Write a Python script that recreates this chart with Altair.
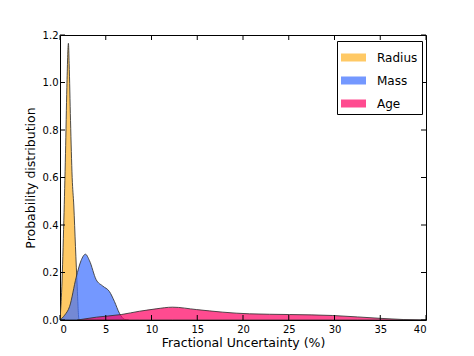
import altair as alt
import pandas as pd

series = ["Radius", "Mass", "Age"]
colors = ["#FFB42A", "#3F70FF", "#FF0665"]

rad_x = [0.0, 0.2, 0.42, 0.6, 0.75, 0.92, 1.0, 1.15, 1.33, 1.51, 1.69, 1.88, 2.06, 2.15]
rad_y = [0.0, 0.14, 0.42, 0.70, 0.98, 1.165, 1.08, 0.84, 0.60, 0.48, 0.31, 0.14, 0.006, 0.0]

mass_x = [0.0, 0.5, 1.04, 1.77, 2.3, 2.78, 3.22, 3.95, 4.67, 5.4, 5.95, 6.5, 7.04, 7.5]
mass_y = [0.0, 0.02, 0.056, 0.18, 0.25, 0.277, 0.25, 0.17, 0.143, 0.12, 0.078, 0.028, 0.003, 0.0]

age_x = [1.9, 4.0, 6.7, 8.7, 10.5, 12.3, 14.9, 17.8, 20.7, 25.1, 29.8, 32.5, 35.0, 37.5, 40.0]
age_y = [0.0, 0.012, 0.023, 0.037, 0.047, 0.054, 0.044, 0.033, 0.026, 0.023, 0.019, 0.013, 0.007, 0.002, 0.0]

x_ticks = [0, 5, 10, 15, 20, 25, 30, 35, 40]
y_ticks = [0.0, 0.2, 0.4, 0.6, 0.8, 1.0, 1.2]

W, H = 366, 285
FONT = "DejaVu Sans"

def frame(name, xs, ys):
    return pd.DataFrame({"x": xs, "y": ys, "series": name})

dfs = [frame("Radius", rad_x, rad_y), frame("Mass", mass_x, mass_y), frame("Age", age_x, age_y)]

X = alt.X("x:Q", scale=alt.Scale(domain=[0, 40], nice=False, zero=False),
          axis=alt.Axis(values=x_ticks, format="d", ticks=False, domain=False, grid=False,
                        labelPadding=4, labelFontSize=10, labelFont=FONT, labelColor="black",
                        title="Fractional Uncertainty (%)", titleFontSize=12.5, titleFont=FONT,
                        titleFontWeight="normal", titleColor="black", titlePadding=2))
Y = alt.Y("y:Q", stack=None, scale=alt.Scale(domain=[0, 1.2], nice=False),
          axis=alt.Axis(values=y_ticks, format=".1f", ticks=False, domain=False, grid=False,
                        labelPadding=2, labelFontSize=10, labelFont=FONT, labelColor="black",
                        title="Probability distribution", titleFontSize=12.5, titleFont=FONT,
                        titleFontWeight="normal", titleColor="black", titlePadding=5))

color = alt.Color("series:N", scale=alt.Scale(domain=series, range=colors),
                  legend=alt.Legend(title=None, orient="none", legendX=277, legendY=6,
                                    symbolType="M-1,-0.32H1V0.32H-1Z", symbolSize=625,
                                    symbolOpacity=0.72, symbolStrokeWidth=0,
                                    labelFontSize=12, labelFont=FONT, labelColor="black",
                                    labelOffset=11, rowPadding=4, padding=4,
                                    strokeColor="black", fillColor="white", cornerRadius=0))

layers = []
for df in dfs:
    layers.append(
        alt.Chart(df).mark_area(interpolate="monotone", fillOpacity=0.72, stroke="#333333",
                                strokeWidth=1, strokeOpacity=0.85, clip=True)
        .encode(x=X, y=Y, color=color)
    )

xt = pd.DataFrame({"x": x_ticks})
yt = pd.DataFrame({"y": y_ticks})
tick_bottom = alt.Chart(xt).mark_rule(color="black", strokeWidth=1).encode(
    x=X, y=alt.value(H), y2=alt.value(H - 5))
tick_top = alt.Chart(xt).mark_rule(color="black", strokeWidth=1).encode(
    x=X, y=alt.value(0), y2=alt.value(5))
tick_left = alt.Chart(yt).mark_rule(color="black", strokeWidth=1).encode(
    y=Y, x=alt.value(0), x2=alt.value(5))
tick_right = alt.Chart(yt).mark_rule(color="black", strokeWidth=1).encode(
    y=Y, x=alt.value(W), x2=alt.value(W - 5))

chart = alt.layer(*layers, tick_bottom, tick_top, tick_left, tick_right).properties(
    width=W, height=H,
    autosize=alt.AutoSizeParams(type="none"),
    padding={"left": 52, "top": 27, "right": 40, "bottom": 30},
    background="white",
).configure_view(stroke="black", strokeWidth=1)

chart.save("out.html", embed_options={"renderer": "svg", "actions": False})
